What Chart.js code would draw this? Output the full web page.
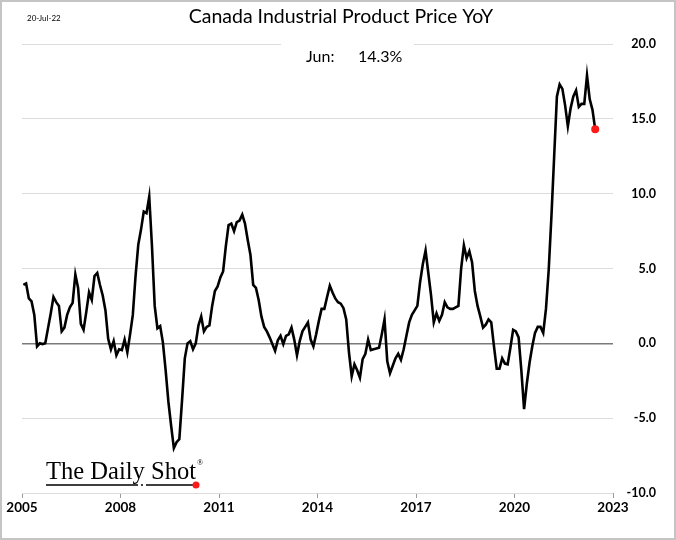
<!DOCTYPE html>
<html>
<head>
<meta charset="utf-8">
<script src="https://cdn.jsdelivr.net/npm/chart.js@4"></script>
<style>
  body { margin: 0; background: #fff; }
  canvas { display: block; }
</style>
</head>
<body>
<canvas id="ippiChart" width="676" height="540"></canvas>
<script>
// Canada IPPI, % YoY, monthly from Jan 2005 to Jun 2022
const firstYear = 2005;
const ippiYoY = [
    3.9, 4.0, 3.0, 2.8, 1.9, -0.2, 0.0, -0.05, 0.0, 1.0,
    2.0, 3.1, 2.75, 2.5, 0.8, 1.05, 1.9, 2.4, 2.7, 4.6,
    3.7, 1.3, 0.9, 2.1, 3.4, 2.9, 4.5, 4.7, 3.9, 3.2,
    2.2, 0.3, -0.4, 0.15, -0.8, -0.4, -0.45, 0.25, -0.6, 0.6,
    1.9, 4.5, 6.6, 7.6, 8.8, 8.7, 9.8, 6.5, 2.5, 1.0,
    1.15, 0.05, -1.8, -3.9, -5.5, -7.0, -6.6, -6.4, -3.8, -1.0,
    0.0, 0.15, -0.4, 0.0, 1.2, 1.8, 0.8, 1.1, 1.2, 2.5,
    3.5, 3.8, 4.4, 4.8, 6.5, 7.9, 8.0, 7.5, 8.1, 8.2,
    8.6, 8.0, 6.9, 5.9, 3.9, 3.7, 2.9, 1.8, 1.1, 0.8,
    0.4, -0.05, -0.5, 0.2, 0.5, -0.05, 0.5, 0.6, 1.05, 0.25,
    -0.8, 0.15, 0.8, 1.1, 1.4, 0.25, -0.2, 0.6, 1.5, 2.3,
    2.3, 3.1, 3.85, 3.4, 3.0, 2.75, 2.65, 2.35, 1.6,
    -0.6, -2.2, -1.4, -1.8, -2.3, -1.05, -0.7, 0.25, -0.45, -0.4,
    -0.35, -0.3, 0.6, 1.6, -1.2, -2.0, -1.5, -1.0, -0.7, -1.1,
    -0.4, 0.5, 1.4, 1.9, 2.2, 2.5, 4.1, 5.3, 6.2, 4.7,
    3.2, 1.4, 2.0, 1.5, 1.9, 2.75, 2.4, 2.3, 2.3, 2.4,
    2.5, 5.0, 6.55, 5.7, 6.15, 5.4, 3.5, 2.5, 1.8, 1.05,
    1.25, 1.6, 1.4, -0.2, -1.7, -1.7, -1.0, -1.35, -1.4, -0.3,
    0.9, 0.8, 0.4, -1.8, -4.4, -2.7, -1.3, -0.2, 0.7, 1.1,
    1.1, 0.7, 2.3, 4.9, 8.5, 12.5, 16.5, 17.3, 17.0, 15.9,
    14.5, 15.7, 16.5, 16.9, 15.8, 16.0, 16.0, 17.9, 16.3, 15.6, 14.3
];
const xTicks = [2005, 2008, 2011, 2014, 2017, 2020, 2023];
const yTicks = [-10, -5, 0, 5, 10, 15, 20];
const chartTitle = "Canada Industrial Product Price YoY";
const dateStamp = "20-Jul-22";
const lastLabel = ["Jun:", "14.3%"];

const points = ippiYoY.map(function (v, i) {
    return { x: firstYear + (i + 0.5) / 12, y: v };
});
const lastIdx = points.length - 1;

// texts, label box, logo and frame
const extras = {
    id: "extras",
    afterDraw: function (chart) {
        const c = chart.ctx;
        c.save();
        c.fillStyle = "#000";
        c.textBaseline = "middle";

        c.font = '19.5px Lato';
        c.textAlign = "center";
        c.fillText(chartTitle, 341, 17);

        c.font = '8px Lato';
        c.textAlign = "left";
        c.fillText(dateStamp, 27, 18);

        // last value label over the top gridline
        c.fillStyle = "#fff";
        c.fillRect(281, 36, 133, 32);
        c.fillStyle = "#000";
        c.font = '16px Lato';
        c.fillText(lastLabel[0], 306, 57);
        c.fillText(lastLabel[1], 358, 57);

        // logo
        c.font = '25px "Liberation Serif"';
        const w = c.measureText("The Daily Shot").width;
        c.save();
        c.translate(46, 472);
        c.scale(150 / w, 1);
        c.fillText("The Daily Shot", 0, 0);
        c.restore();
        c.font = '8px "Liberation Serif"';
        c.fillText("®", 197, 463);
        c.strokeStyle = "#000";
        c.lineWidth = 1.5;
        c.beginPath();
        c.moveTo(46, 485); c.lineTo(138, 485);
        c.moveTo(146, 485); c.lineTo(195, 485);
        c.stroke();
        c.beginPath();
        c.arc(142, 485, 1, 0, Math.PI * 2);
        c.fill();
        c.fillStyle = "#ff1a1a";
        c.beginPath();
        c.arc(196, 485, 3.5, 0, Math.PI * 2);
        c.fill();

        // outer frame
        c.strokeStyle = "#c4c4c4";
        c.lineWidth = 2;
        c.strokeRect(1, 1, 674, 538);
        c.restore();
    },
};

var ctx = document.getElementById("ippiChart").getContext("2d");
let ippiChart = new Chart(ctx, {
    type: "line",
    data: {
        datasets: [
            {
                data: points,
                borderColor: "#000",
                borderWidth: 2.6,
                tension: 0,
                pointRadius: function (c) {
                    return c.dataIndex === lastIdx ? 4 : 0;
                },
                pointBackgroundColor: "#ff1a1a",
                pointBorderWidth: 0,
            },
        ],
    },
    options: {
        responsive: false,
        animation: false,
        layout: { padding: { top: 44, left: 22, right: 20, bottom: 0 } },
        plugins: {
            legend: { display: false },
            tooltip: { enabled: false },
        },
        scales: {
            x: {
                type: "linear",
                min: 2005,
                max: 2023,
                afterBuildTicks: function (s) {
                    s.ticks = xTicks.map(function (v) { return { value: v }; });
                },
                afterFit: function (s) { s.height = 47; },
                grid: { drawOnChartArea: false, drawTicks: true, tickLength: 5, color: "#9a9a9a" },
                border: { display: false },
                ticks: {
                    color: "#000",
                    padding: 2,
                    maxRotation: 0,
                    font: { family: "Lato", size: 13.5, weight: "bold" },
                    callback: function (v) { return String(v); },
                },
            },
            y: {
                position: "right",
                min: -10,
                max: 20,
                afterBuildTicks: function (s) {
                    s.ticks = yTicks.map(function (v) { return { value: v }; });
                },
                afterFit: function (s) { s.width = 43; },
                grid: {
                    drawTicks: false,
                    color: function (c) { return c.tick.value === 0 ? "#7a7a7a" : "#dcdcdc"; },
                    lineWidth: function (c) { return c.tick.value === 0 ? 1.5 : 1; },
                },
                border: { display: false },
                ticks: {
                    color: "#000",
                    padding: 0,
                    crossAlign: "far",
                    font: { family: "Lato", size: 12.5, weight: "bold" },
                    callback: function (v) { return v.toFixed(1); },
                },
            },
        },
    },
    plugins: [extras],
});
</script>
</body>
</html>
